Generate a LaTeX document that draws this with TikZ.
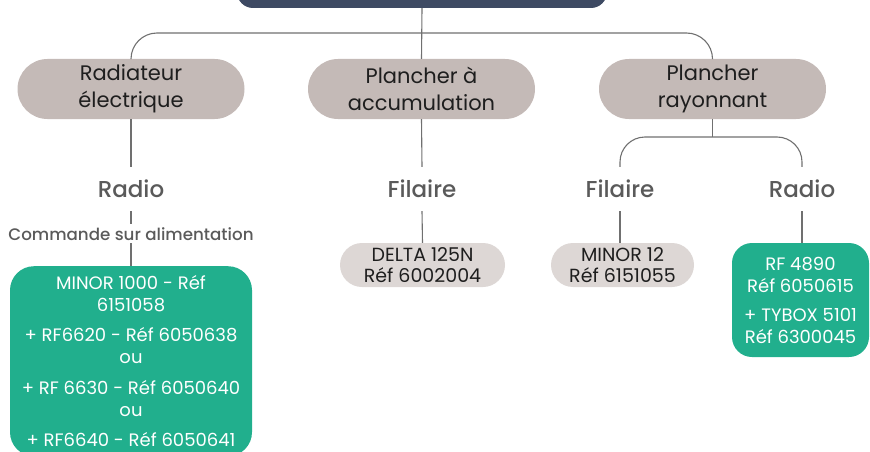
\documentclass[tikz,border=0pt]{standalone}
\usepackage{fontspec}
\setmainfont{Poppins}
\newfontfamily\pmed{Poppins Medium}
\definecolor{darkbox}{HTML}{3E4A63}
\definecolor{pill}{HTML}{C4BAB7}
\definecolor{lightpill}{HTML}{DDD7D5}
\definecolor{greenbox}{HTML}{21AF8D}
\definecolor{graytxt}{HTML}{5A5A5A}
\definecolor{conn}{HTML}{707070}
\definecolor{darktxt}{HTML}{1E1E1E}
\begin{document}
\begin{tikzpicture}[x=1pt,y=-1pt,
  cat/.style={fill=pill, rounded corners=30pt, minimum width=227pt, minimum height=60pt,
    align=center, font=\fontsize{21}{27}\selectfont, text=darktxt, inner sep=0pt},
  kind/.style={font=\pmed\fontsize{23}{24}\selectfont, text=graytxt, text height=16pt,
    text depth=0pt, inner xsep=0pt, inner ysep=14pt},
  subkind/.style={font=\pmed\fontsize{16.7}{20}\selectfont, text=graytxt, text height=13pt,
    text depth=0pt, inner xsep=0pt, inner ysep=3pt},
  prod/.style={fill=lightpill, rounded corners=22pt, minimum height=44pt, align=center,
    font=\fontsize{19}{21}\selectfont, text=darktxt, inner sep=0pt},
  gbox/.style={fill=greenbox, align=center, text=white,
    font=\fontsize{18}{22}\selectfont, inner sep=0pt},
  link/.style={draw=conn, line width=1.1pt}
]
\clip (0,0) rectangle (870,452);

\node[fill=darkbox, rounded corners=16pt, minimum width=370pt, minimum height=60pt, inner sep=0pt] (top) at (422,-22) {};

\node[cat] (rad) at (131,89) {Radiateur\\électrique};
\node[cat] (acc) at (421.5,89) {Plancher à\\accumulation};
\node[cat] (ray) at (712.5,89) {Plancher\\rayonnant};

\node[kind] (radio1) at (131,189) {Radio};
\node[subkind] (cmd) at (131,233.5) {Commande sur alimentation};
\node[gbox, rounded corners=24pt, anchor=north, minimum width=242pt, minimum height=190pt] (g1) at (131,266)
  {MINOR 1000 - Réf\\6151058\\[8pt]+ RF6620 - Réf 6050638\\ou\\[9pt]+ RF 6630 - Réf 6050640\\ou\\[8pt]+ RF6640 - Réf 6050641};

\node[kind] (fil1) at (422,189) {Filaire};
\node[prod, minimum width=165pt] (delta) at (422.5,265) {DELTA 125N\\Réf 6002004};

\node[kind] (fil2) at (620,189) {Filaire};
\node[prod, minimum width=143pt] (minor) at (622.5,265) {MINOR 12\\Réf 6151055};

\node[kind] (radio2) at (802,189) {Radio};
\node[gbox, rounded corners=20pt, minimum width=137pt, minimum height=114pt] (rf) at (800.5,300)
  {RF 4890\\Réf 6050615\\[7pt]+ TYBOX 5101\\Réf 6300045};

\coordinate (bus) at (422,33);
\coordinate (bus2) at (712.5,137);

\draw[link] (top.south) -- (acc.north);
\draw[link, rounded corners=26pt] (rad.north) |- (bus) -| (ray.north);
\draw[link] (rad.south) -- (radio1.north);
\draw[link] (radio1.south) -- (cmd.north);
\draw[link] (cmd.south) -- (g1.north);
\draw[link] (acc.south) -- (fil1.north);
\draw[link] (fil1.south) -- (delta.north);
\draw[link] (ray.south) -- (bus2);
\draw[link, rounded corners=25pt] (fil2.north) |- (bus2) -| (radio2.north);
\draw[link] (fil2.south) -- (fil2.south |- minor.north);
\draw[link] (radio2.south) -- (radio2.south |- rf.north);
\end{tikzpicture}
\end{document}
